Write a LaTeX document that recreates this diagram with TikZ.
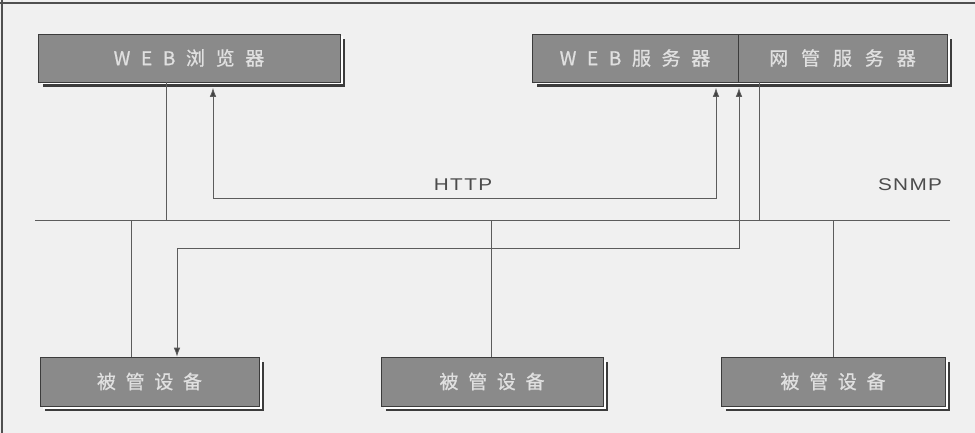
\documentclass[tikz,border=0pt]{standalone}
\usepackage{fontspec}
\setmainfont{Liberation Sans}
\newfontfamily\cjk[FakeBold=0.8]{Noto Sans CJK SC}
\usetikzlibrary{arrows.meta}
\definecolor{bg}{HTML}{F0F0F0}
\definecolor{boxgray}{HTML}{8A8A8A}
\definecolor{boxtext}{HTML}{E0E0E0}
\definecolor{wire}{HTML}{5C5C5C}
\definecolor{shade}{HTML}{3C3C3C}
\definecolor{frame}{HTML}{505050}
\begin{document}
\begin{tikzpicture}[x=1pt,y=-1pt,
  >={Latex[length=9pt,width=6.5pt,fill=black!75]},
  devbox/.style={fill=boxgray, draw=shade, line width=0.6pt, inner sep=0pt,
    minimum height=48pt, text=boxtext,
    font=\cjk\fontsize{19pt}{19pt}\selectfont,
    preaction={fill=shade, transform canvas={shift={(5pt,-5pt)}}},
    preaction={fill=white, transform canvas={shift={(2.5pt,-2.5pt)}}}},
  wire/.style={draw=wire, line width=0.8pt},
  proto/.style={text=black!70, font=\fontsize{17pt}{17pt}\selectfont\addfontfeature{FakeStretch=1.22,LetterSpace=8}}
]
% background and frame
\fill[bg] (0,0) rectangle (975,433);
\useasboundingbox (0,0) rectangle (975,433);
\draw[frame, line width=1.8pt] (0,3) -- (975,3);
\draw[frame, line width=1.5pt] (2,0) -- (2,433);

% boxes
\node[devbox, minimum width=302pt] (browser) at (189,58)
  {\addfontfeature{LetterSpace=56}WEB浏览器};
\node[devbox, minimum width=206pt] (websrv) at (635,58)
  {\addfontfeature{LetterSpace=56}WEB服务器};
\node[devbox, minimum width=209pt] (netmgr) at (842.5,58)
  {\addfontfeature{LetterSpace=68}网管服务器};
\node[devbox, minimum width=219pt, minimum height=49pt] (dev1) at (149.5,381.5)
  {\addfontfeature{LetterSpace=51}被管设备};
\node[devbox, minimum width=222pt, minimum height=49pt] (dev2) at (492,381.5)
  {\addfontfeature{LetterSpace=51}被管设备};
\node[devbox, minimum width=224pt, minimum height=49pt] (dev3) at (833,381.5)
  {\addfontfeature{LetterSpace=51}被管设备};

% bus
\coordinate (busL) at (35,220);
\coordinate (busR) at (950,220);
\draw[wire] (busL) -- (busR);

% taps on the bus
\coordinate (tB) at (166,220);
\coordinate (tN) at (759,220);
\coordinate (t1) at (131,220);
\coordinate (t2) at (491,220);
\coordinate (t3) at (833,220);
\draw[wire] (browser.south -| tB) -- (tB);
\draw[wire] (netmgr.south -| tN) -- (tN);
\draw[wire] (t1) -- (dev1.north -| t1);
\draw[wire] (t2) -- (dev2.north -| t2);
\draw[wire] (t3) -- (dev3.north -| t3);

% HTTP path
\coordinate (h1) at (213,198);
\coordinate (h2) at (716,198);
\draw[wire, <->, shorten <=5.5pt, shorten >=5.5pt]
  (browser.south -| h1) -- (h1) -- (h2) -- (websrv.south -| h2);

% SNMP path
\coordinate (s1) at (739,248);
\coordinate (s2) at (177,248);
\draw[wire, <->, shorten <=5.5pt]
  (netmgr.south -| s1) -- (s1) -- (s2) -- (dev1.north -| s2);

% labels
\node[proto] (http) at (463,185) {HTTP};
\node[proto] (snmp) at (910,185) {SNMP};
\end{tikzpicture}
\end{document}
